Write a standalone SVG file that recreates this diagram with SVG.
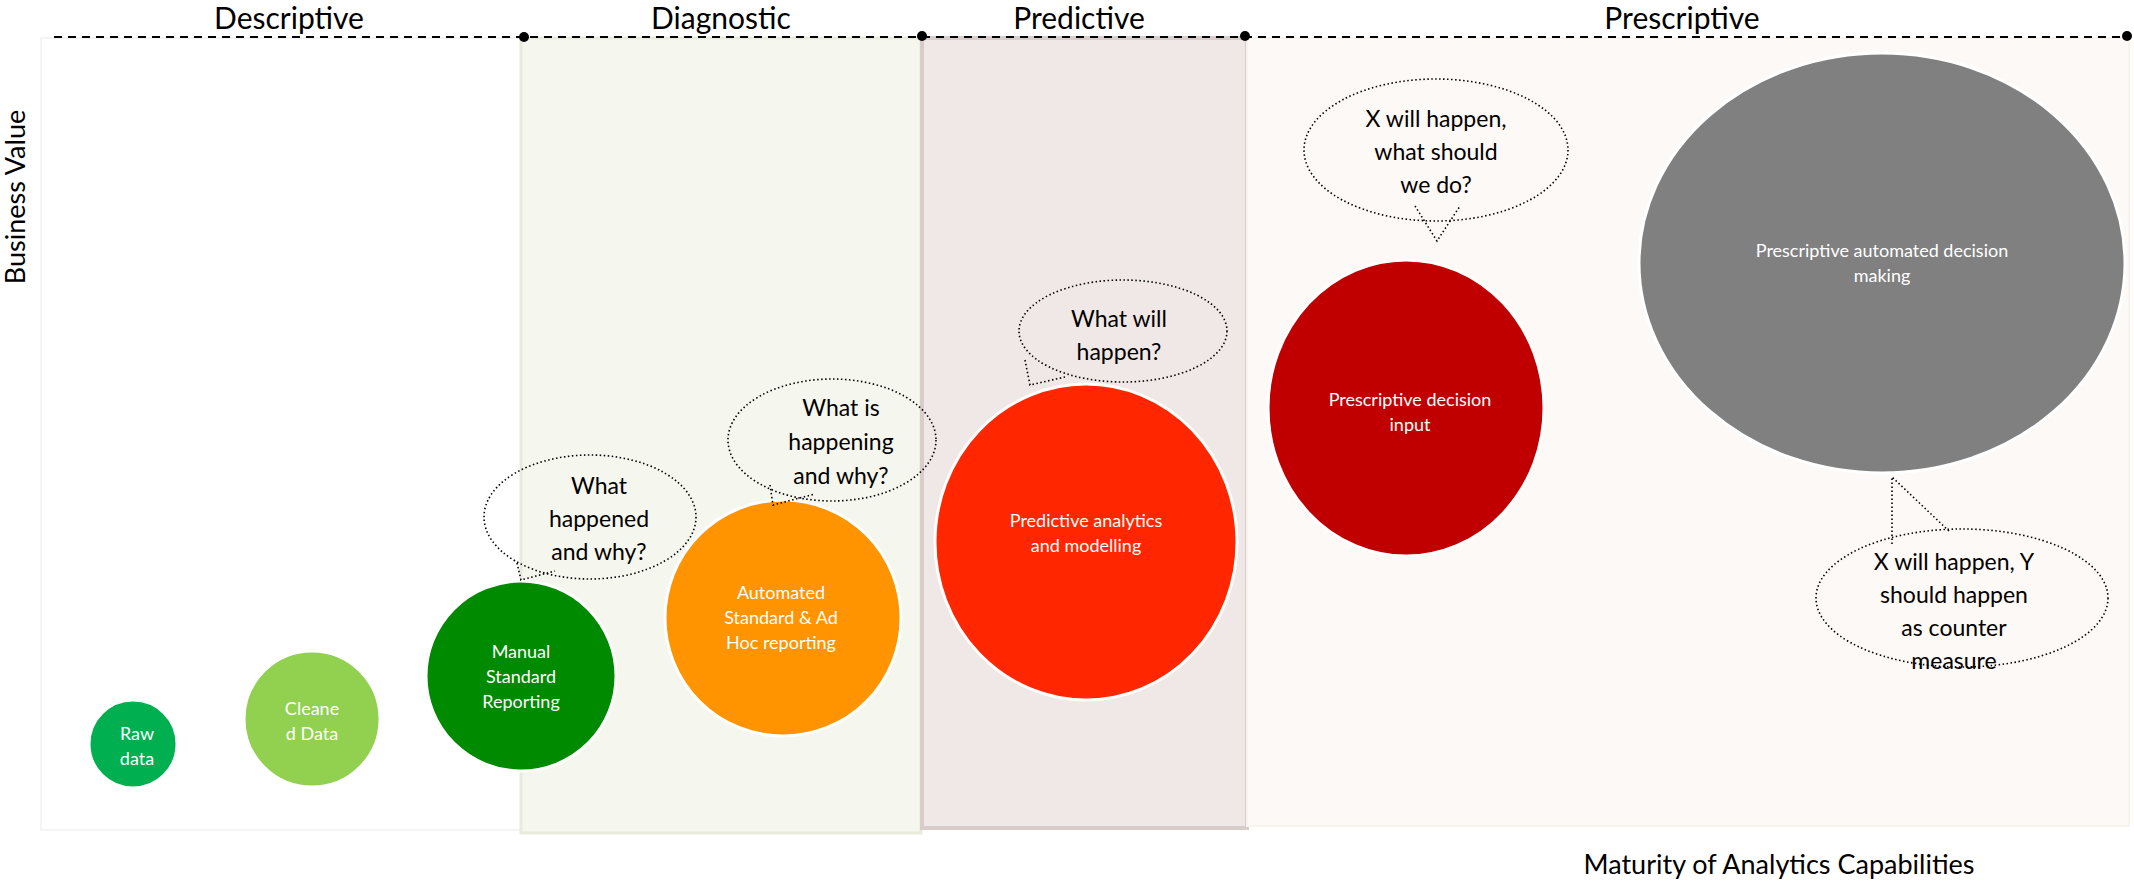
<svg xmlns="http://www.w3.org/2000/svg" width="2134" height="883" viewBox="0 0 2134 883">
<style>
.t{font-family:Lato,"Open Sans","Liberation Sans",sans-serif;}
.hd{font-size:30px;fill:#000;text-anchor:middle;}
.in{font-size:18px;fill:#fff;text-anchor:middle;}
.bt{font-size:23px;fill:#000;text-anchor:middle;}
.bub{fill:none;stroke:#000;stroke-width:1.6;stroke-dasharray:1.5 2.5;}
.node{stroke:#fff;stroke-width:3;}
</style>
<rect width="2134" height="883" fill="#fff"/>
<g id="bands">
<rect x="41" y="38" width="480" height="792" fill="#fff" stroke="#f4f4f4" stroke-width="2"/>
<rect x="521" y="38" width="400" height="795" fill="#f5f6ee" stroke="#e8ebdc" stroke-width="3"/>
<rect x="922" y="38" width="325" height="790" fill="#f0e8e6" stroke="#d9cdc9" stroke-width="4"/>
<rect x="1247" y="38" width="882" height="788" fill="#fdf9f6" stroke="#f8f3ef" stroke-width="2"/>
</g>
<g id="connectors">
<line x1="54" y1="37" x2="2127" y2="37" stroke="#000" stroke-width="2" stroke-dasharray="8 6"/>
<circle cx="524" cy="37" r="5"/><circle cx="922" cy="36" r="5"/><circle cx="1245" cy="36" r="5"/><circle cx="2127" cy="36" r="5"/>
</g>
<g class="t">
<text class="hd" x="289" y="29">Descriptive</text>
<text class="hd" x="721" y="29">Diagnostic</text>
<text class="hd" x="1079" y="29">Predictive</text>
<text class="hd" x="1682" y="29">Prescriptive</text>
<text x="0" y="0" font-size="27" text-anchor="middle" transform="translate(25 197) rotate(-90)">Business Value</text>
<text x="1779" y="874" font-size="27" text-anchor="middle">Maturity of Analytics Capabilities</text>
</g>
<g id="raw" class="t"><circle class="node" cx="133" cy="744" r="44" fill="#00b050"/><text class="in" x="137" y="740">Raw</text><text class="in" x="137" y="765">data</text></g>
<g id="cleaned" class="t"><circle class="node" cx="312" cy="719" r="68" fill="#92d050"/><text class="in" x="312" y="715">Cleane</text><text class="in" x="312" y="740">d Data</text></g>
<g id="manual" class="t"><circle class="node" cx="521" cy="676" r="95" fill="#008a00"/><text class="in" x="521" y="658">Manual</text><text class="in" x="521" y="683">Standard</text><text class="in" x="521" y="708">Reporting</text></g>
<g id="automated" class="t"><circle class="node" cx="783" cy="618" r="118" fill="#ff9300"/><text class="in" x="781" y="599">Automated</text><text class="in" x="781" y="624">Standard &amp; Ad</text><text class="in" x="781" y="649">Hoc reporting</text></g>
<g id="predictive" class="t"><ellipse class="node" cx="1086" cy="542" rx="151" ry="158" fill="#ff2600"/><text class="in" x="1086" y="527">Predictive analytics</text><text class="in" x="1086" y="552">and modelling</text></g>
<g id="decision" class="t"><ellipse class="node" cx="1406" cy="408" rx="138" ry="148" fill="#c00000"/><text class="in" x="1410" y="406">Prescriptive decision</text><text class="in" x="1410" y="431">input</text></g>
<g id="automatedDecision" class="t"><ellipse class="node" cx="1882" cy="263" rx="243" ry="210" fill="#808080"/><text class="in" x="1882" y="257">Prescriptive automated decision</text><text class="in" x="1882" y="282">making</text></g>
<g id="b1" class="t"><ellipse class="bub" cx="590" cy="517" rx="106" ry="62"/><path class="bub" d="M517 563 L521 580 L555 571"/><text class="bt" x="599" y="494">What</text><text class="bt" x="599" y="527">happened</text><text class="bt" x="599" y="560">and why?</text></g>
<g id="b2" class="t"><ellipse class="bub" cx="832" cy="440" rx="104" ry="61"/><path class="bub" d="M770 485 L773 505 L815 494"/><text class="bt" x="841" y="416">What is</text><text class="bt" x="841" y="450">happening</text><text class="bt" x="841" y="484">and why?</text></g>
<g id="b3" class="t"><ellipse class="bub" cx="1123" cy="331" rx="104" ry="51"/><path class="bub" d="M1025 360 L1030 385 L1065 377"/><text class="bt" x="1119" y="327">What will</text><text class="bt" x="1119" y="360">happen?</text></g>
<g id="b4" class="t"><ellipse class="bub" cx="1436" cy="150" rx="132" ry="71"/><path class="bub" d="M1415 206 L1437 241 L1460 206"/><text class="bt" x="1436" y="127">X will happen,</text><text class="bt" x="1436" y="160">what should</text><text class="bt" x="1436" y="193">we do?</text></g>
<g id="b5" class="t"><ellipse class="bub" cx="1962" cy="598" rx="146" ry="69"/><path class="bub" d="M1892 544 L1892 477 L1950 532"/><text class="bt" x="1954" y="570">X will happen, Y</text><text class="bt" x="1954" y="603">should  happen</text><text class="bt" x="1954" y="636">as counter</text><text class="bt" x="1954" y="669">measure</text></g>
</svg>
